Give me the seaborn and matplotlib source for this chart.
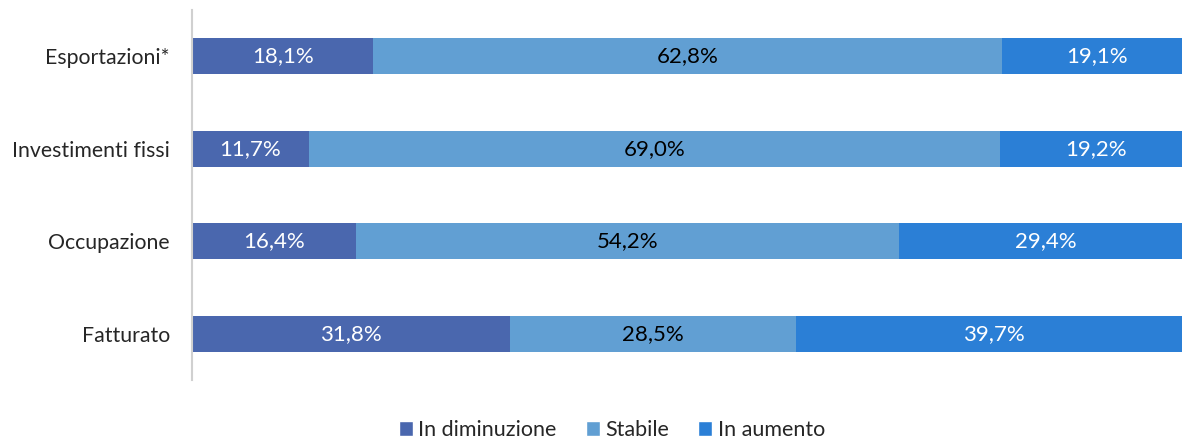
import matplotlib
matplotlib.use("Agg")
import matplotlib.pyplot as plt
import seaborn as sns
import numpy as np
import pandas as pd
from matplotlib.patches import Patch

categories = ["Esportazioni*", "Investimenti fissi", "Occupazione", "Fatturato"]
in_diminuzione = [18.1, 11.7, 16.4, 31.8]
stabile = [62.8, 69.0, 54.2, 28.5]
in_aumento = [19.1, 19.2, 29.4, 39.7]
series_names = ["In diminuzione", "Stabile", "In aumento"]

colors = ["#4a67ae", "#619fd3", "#2b7fd6"]
text_colors = ["white", "black", "white"]

sns.set_style("white")
plt.rcParams["font.family"] = ["Lato", "DejaVu Sans"]

df = pd.DataFrame({
    "cat": categories,
    "d": in_diminuzione,
    "s": stabile,
    "a": in_aumento,
})
df["c1"] = df["d"]
df["c2"] = df["d"] + df["s"]
df["c3"] = df["d"] + df["s"] + df["a"]

fig = plt.figure(figsize=(11.82, 4.38), dpi=100)
# the plot area runs slightly past the right edge, as in the original
ax = fig.add_axes([192 / 1182, 1 - 380 / 438, 1001 / 1182, 370 / 438])

# stacked by overlaying cumulative totals, largest first
for col, c in zip(["c3", "c2", "c1"], colors[::-1]):
    sns.barplot(data=df, x=col, y="cat", orient="h", color=c, width=0.39,
                saturation=1, ax=ax, linewidth=0)

# labels centred in each segment
for i in range(len(categories)):
    left = 0
    for vals, tc in zip([in_diminuzione, stabile, in_aumento], text_colors):
        v = vals[i]
        ax.text(left + v / 2, i, f"{v:.1f}%".replace(".", ","), ha="center",
                va="center", color=tc, fontsize=16)
        left += v

ax.set_xlim(0, 100)
ax.set_ylim(3.5, -0.5)
ax.set_xlabel("")
ax.set_ylabel("")
ax.set_xticks([])
ax.tick_params(axis="y", length=0, pad=16, labelsize=15.3)
for s in ["top", "right", "bottom"]:
    ax.spines[s].set_visible(False)
ax.spines["left"].set_color("#d0d0d0")
ax.spines["left"].set_linewidth(1.5)

handles = [Patch(facecolor=c, label=n) for c, n in zip(colors, series_names)]
fig.legend(handles=handles, loc="center", bbox_to_anchor=(612 / 1182, 1 - 430 / 438),
           ncol=3, frameon=False, fontsize=15.5, handlelength=0.65, handleheight=0.65,
           handletextpad=0.25, columnspacing=1.35)

fig.savefig("out.png", dpi=100)
